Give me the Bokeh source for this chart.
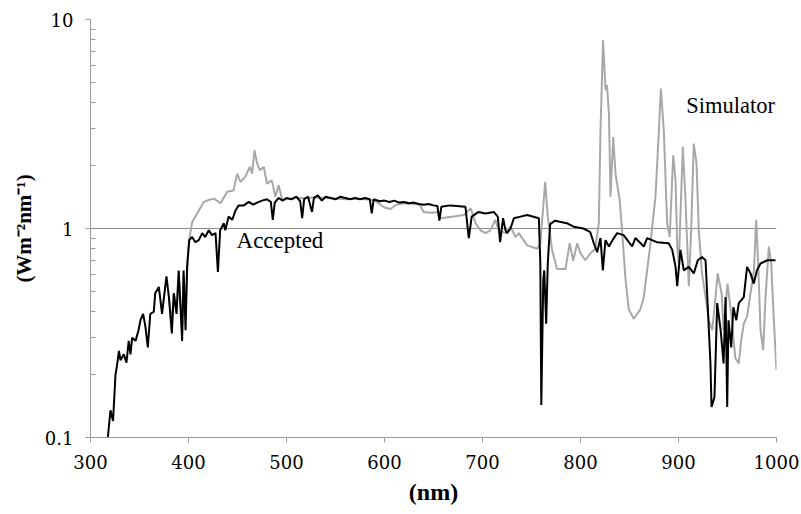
from bokeh.plotting import figure
from bokeh.models import FixedTicker, CustomJSTickFormatter, Label, Title
from bokeh.embed import file_html
from bokeh.resources import INLINE

acc_nm = [317.7, 320.4, 323, 325.5, 327, 329, 330.6, 334, 336.7, 339, 340.8, 342.5, 346, 349, 351,
          353.7, 356, 358.5, 361, 364.6, 366, 369.7, 371, 373, 377.5, 380, 383, 385, 387.8, 390,
          393.5, 395, 397, 398.6, 400.7, 403.7, 407, 410.5, 414, 417, 420.7, 424, 427.6, 430, 432.3,
          436, 437.5, 441, 444.6, 448, 451, 456.5, 461.5, 466, 470, 475, 480, 484, 486, 488, 492,
          496, 500, 505, 510, 514, 516, 518, 522, 526, 528, 532, 536, 540, 545, 550, 555, 560, 565,
          570, 575, 580, 585, 587, 589, 595, 600, 605, 610, 615, 620, 625, 630, 635, 640, 645, 650,
          654, 656, 658, 667, 682.6, 686, 689, 696, 703, 711.5, 715.6, 718, 721, 723.5, 725, 728.6,
          732, 738.8, 745.6, 757.5, 759, 760, 762, 763, 765, 766.6, 769, 774, 786, 793, 803, 810,
          813.6, 817, 820.4, 822.8, 825.5, 829, 834, 837.4, 844, 852.7, 856, 864.6, 868, 878, 890,
          893.6, 897, 898.7, 902, 905.4, 910.5, 915.6, 919.7, 924, 927.6, 931, 932.6, 933.7, 936.7,
          939.5, 943, 946, 948, 949.7, 951, 953.8, 956, 959, 961.5, 966.6, 970, 973.5, 976.8, 980,
          983.7, 990.5, 999]
acc_val = [0.10, 0.135, 0.12, 0.20, 0.22, 0.26, 0.234, 0.25, 0.228, 0.29, 0.25, 0.30, 0.29, 0.326, 0.364,
           0.39, 0.34, 0.27, 0.39, 0.40, 0.49, 0.525, 0.47, 0.39, 0.59, 0.47, 0.315, 0.49, 0.39, 0.63,
           0.29, 0.63, 0.326, 0.655, 0.88, 0.91, 0.86, 0.88, 0.95, 0.91, 0.98, 0.93, 0.95, 0.62, 0.98,
           1.06, 0.98, 1.14, 1.10, 1.22, 1.29, 1.29, 1.34, 1.30, 1.33, 1.36, 1.38, 1.34, 1.10, 1.33, 1.40,
           1.36, 1.40, 1.38, 1.42, 1.35, 1.12, 1.38, 1.42, 1.20, 1.40, 1.44, 1.36, 1.42, 1.40, 1.38, 1.42, 1.40, 1.38,
           1.40, 1.38, 1.40, 1.38, 1.18, 1.38, 1.35, 1.36, 1.34, 1.36, 1.33, 1.34, 1.32, 1.33, 1.31, 1.30, 1.31, 1.29,
           1.28, 1.09, 1.27, 1.29, 1.27, 0.90, 1.14, 1.20, 1.18, 1.20, 1.14, 0.86, 1.12, 0.98, 0.95, 1.00,
           1.12, 1.14, 1.16, 1.12, 0.68, 0.143, 0.566, 0.63, 0.35, 0.68, 1.05, 1.09, 1.06, 1.02, 1.00, 0.96,
           0.85, 0.77, 0.90, 0.63, 0.88, 0.82, 0.90, 0.95, 0.93, 0.82, 0.90, 0.82, 0.90, 0.86, 0.85,
           0.79, 0.655, 0.53, 0.79, 0.63, 0.655, 0.61, 0.705, 0.73, 0.705, 0.326, 0.226, 0.14, 0.156,
           0.44, 0.326, 0.226, 0.47, 0.14, 0.364, 0.27, 0.42, 0.364, 0.44, 0.47, 0.655, 0.61, 0.545, 0.63,
           0.68, 0.705, 0.705]

sim_nm = [380, 383, 385, 387.8, 390, 393.5, 395, 397, 399, 401, 403.7, 408.8, 415.6, 420.7, 425.9,
          432.7, 439.5, 446, 449.7, 453, 458, 462.6, 465, 467.3, 470, 472.8, 476.9, 480, 485, 488.6,
          492, 495.6, 500, 510, 520, 530, 540, 550, 560, 570, 580, 590, 596, 600, 606, 612, 620, 630,
          636, 640, 648, 655, 657, 670.7, 681, 688, 693, 698, 703, 708, 713, 716.7, 723.5, 728.6,
          733.7, 737, 740.5, 745.6, 755.8, 759, 764, 766.6, 771, 776, 784.7, 789, 792.5, 796.6, 800,
          805, 810, 815, 818.7, 820.4, 823, 825.5, 827, 829, 830.6, 833.4, 835.7, 840, 842.4, 846,
          849.3, 854.4, 861, 864.6, 871, 876.5, 880, 882, 885, 888.4, 891, 894.6, 897, 898.7, 900.3,
          904.4, 907, 910.5, 912.9, 915.6, 918.4, 920.7, 924, 927.6, 931, 934.4, 937.8, 940, 944, 946,
          950, 953.8, 958, 961.5, 964, 966.6, 970, 973.5, 977, 979.3, 981.3, 983.7, 986.4, 988.8,
          992.2, 994.6, 997.3, 1000]
sim_val = [0.47, 0.35, 0.49, 0.42, 0.60, 0.34, 0.60, 0.40, 0.70, 0.90, 1.07, 1.18, 1.34, 1.37, 1.39,
           1.32, 1.50, 1.52, 1.83, 1.67, 1.77, 1.97, 1.83, 2.37, 2.05, 1.90, 1.97, 1.64, 1.70, 1.42,
           1.61, 1.37, 1.38, 1.40, 1.40, 1.41, 1.40, 1.39, 1.38, 1.39, 1.38, 1.36, 1.30, 1.26, 1.24, 1.30, 1.32, 1.31,
           1.30, 1.20, 1.19, 1.20, 1.12, 1.14, 1.16, 1.25, 1.06, 0.98, 0.95, 0.98, 1.10, 0.98, 0.95, 1.02,
           0.91, 0.95, 0.90, 0.83, 0.80, 0.85, 1.67, 1.14, 0.79, 0.64, 0.64, 0.85, 0.70, 0.85, 0.76,
           0.705, 0.76, 0.80, 1.06, 2.95, 7.95, 4.60, 4.85, 3.55, 1.42, 2.74, 1.83, 1.37, 0.98, 0.566,
           0.41, 0.37, 0.41, 0.47, 0.82, 1.42, 2.95, 4.67, 2.95, 1.06, 0.91, 2.24, 1.70, 0.82, 0.68,
           2.46, 1.42, 0.53, 0.98, 2.55, 2.05, 0.98, 0.61, 0.47, 0.364, 0.326, 0.47, 0.61, 0.49, 0.326,
           0.545, 0.39, 0.24, 0.226, 0.292, 0.35, 0.38, 0.49, 0.63, 1.10, 0.68, 0.326, 0.262, 0.47,
           0.82, 0.68, 0.364, 0.21]

x_ticks = [300, 400, 500, 600, 700, 800, 900, 1000]
y_ticks = [0.1, 1, 10]
y_minor = [0.2, 0.3, 0.4, 0.5, 0.6, 0.7, 0.8, 0.9, 2, 3, 4, 5, 6, 7, 8, 9]

SERIF = "Liberation Serif"
AXFONT = "DejaVu Serif"

p = figure(width=800, height=512, output_backend="svg", toolbar_location=None,
           y_axis_type="log", x_range=(300, 1000), y_range=(0.1, 10),
           min_border_left=90, min_border_right=24, min_border_top=19, min_border_bottom=75)
p.outline_line_color = None
p.background_fill_color = "white"
p.border_fill_color = "white"

p.line(sim_nm, sim_val, line_color="#a8a8a8", line_width=2)
p.line(acc_nm, acc_val, line_color="black", line_width=2)

p.xaxis.ticker = FixedTicker(ticks=x_ticks)
p.yaxis.ticker = FixedTicker(ticks=y_ticks, minor_ticks=y_minor)
p.yaxis.formatter = CustomJSTickFormatter(code="return tick.toString();")
for ax in (p.xaxis[0], p.yaxis[0]):
    ax.axis_line_color = "#999999"
    ax.major_tick_line_color = "#999999"
    ax.minor_tick_line_color = "#999999"
    ax.major_tick_in = 0
    ax.major_tick_out = 5
    ax.major_label_text_font = AXFONT
    ax.major_label_text_font_size = "18px"
    ax.major_label_text_color = "black"
p.xaxis.minor_tick_line_color = None
p.yaxis.minor_tick_in = 5
p.yaxis.minor_tick_out = 0
p.xaxis.major_label_standoff = 12
p.yaxis.major_label_standoff = 12

p.add_layout(Title(text="(Wm\u207b\u00b2nm\u207b\u00b9)", align="center", standoff=12,
                   text_font=SERIF, text_font_size="21px", text_font_style="bold",
                   text_color="black"), "left")
p.add_layout(Title(text="(nm)", align="center",
                   text_font=SERIF, text_font_size="24px", text_font_style="bold",
                   text_color="black"), "below")

p.xgrid.grid_line_color = None
p.ygrid.grid_line_color = "#8c8c8c"
p.ygrid.grid_line_width = 1
p.ygrid.minor_grid_line_color = None

p.add_layout(Label(x=449, y=0.76, text="Accepted",
                   text_font=SERIF, text_font_size="23px", text_color="black"))
p.add_layout(Label(x=908, y=3.37, text="Simulator",
                   text_font=SERIF, text_font_size="22.5px", text_color="black"))

open("out.html", "w").write(file_html(p, INLINE))
